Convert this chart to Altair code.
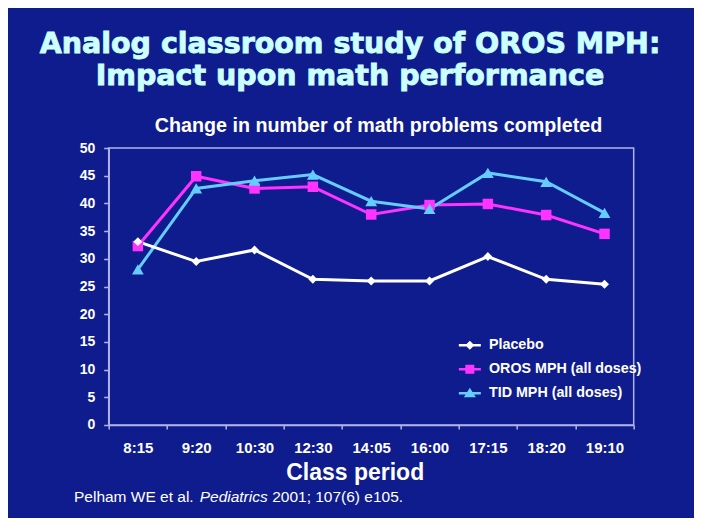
import altair as alt
import pandas as pd

# ---------------- data ----------------
periods = ["8:15", "9:20", "10:30", "12:30", "14:05", "16:00", "17:15", "18:20", "19:10"]
series_names = ["Placebo", "OROS MPH (all doses)", "TID MPH (all doses)"]
placebo = [33.1, 29.5, 31.6, 26.3, 26.0, 26.0, 30.4, 26.3, 25.4]
oros = [32.3, 44.9, 42.7, 43.0, 38.0, 39.7, 39.9, 37.9, 34.5]
tid = [28.1, 42.7, 44.1, 45.2, 40.4, 39.0, 45.5, 43.9, 38.3]
y_ticks = [0, 5, 10, 15, 20, 25, 30, 35, 40, 45, 50]

title_lines = ["Analog classroom study of OROS MPH:", "Impact upon math performance"]
chart_title = "Change in number of math problems completed"
x_title = "Class period"
footnote_parts = ["Pelham WE et al.", "Pediatrics", "2001; 107(6) e105."]

# ---------------- styles ----------------
series_colors = ["#FFFFFF", "#FF33FF", "#66CCFF"]
marker_shapes = ["diamond", "square", "triangle-up"]
marker_sizes = [80, 140, 160]
legend_shapes = [
    "M-2.2,-0.25H2.2V0.25H-2.2Z M0,-0.9L0.9,0L0,0.9L-0.9,0Z",
    "M-2.2,-0.25H2.2V0.25H-2.2Z M-0.9,-0.9H0.9V0.9H-0.9Z",
    "M-2.2,-0.25H2.2V0.25H-2.2Z M0,-1.1L1.2,0.8H-1.2Z",
]
AXIS_COLOR = "#B0B4E8"
BG = "#0F1C8D"
TITLE_COLOR = "#CCFFFF"
FONT = "Liberation Sans"

draw_order = ["OROS MPH (all doses)", "TID MPH (all doses)", "Placebo"]
values_by_series = {"Placebo": placebo, "OROS MPH (all doses)": oros, "TID MPH (all doses)": tid}
rows = []
for name in draw_order:
    for p, v in zip(periods, values_by_series[name]):
        rows.append({"period": p, "value": v, "series": name})
df = pd.DataFrame(rows)

x_enc = alt.X(
    "period:N",
    sort=periods,
    scale=alt.Scale(type="band", domain=periods, paddingInner=0, paddingOuter=0),
    axis=alt.Axis(
        title=x_title,
        labelAngle=0,
        tickBand="extent",
        labelFontSize=15,
        labelPadding=12,
        tickSize=4,
        titleFontSize=23,
        titleX=246,
        titleY=55,
        titleBaseline="alphabetic",
    ),
)
y_enc = alt.Y(
    "value:Q",
    scale=alt.Scale(domain=[0, 50], nice=False),
    axis=alt.Axis(title=None, values=y_ticks, labelFontSize=14, labelPadding=9, tickSize=5),
)
color_scale = alt.Scale(domain=series_names, range=series_colors)

lines = alt.Chart(df).mark_line(strokeWidth=3).encode(
    x=x_enc, y=y_enc,
    color=alt.Color("series:N", scale=color_scale, legend=None),
)

points = alt.Chart(df).mark_point(filled=True, opacity=1).encode(
    x=x_enc, y=y_enc,
    color=alt.Color("series:N", scale=color_scale, legend=None),
    shape=alt.Shape("series:N", scale=alt.Scale(domain=series_names, range=marker_shapes), legend=None),
    size=alt.Size("series:O", scale=alt.Scale(domain=series_names, range=marker_sizes), legend=None),
)

leg = alt.Legend(
    title=None,
    orient="none",
    legendX=354,
    legendY=190,
    padding=0,
    labelFont=FONT,
    labelFontSize=14.3,
    labelFontWeight="bold",
    labelColor="white",
    labelOffset=12,
    symbolSize=100,
    symbolStrokeWidth=0,
    symbolOpacity=1,
    rowPadding=9,
)
legend_layer = alt.Chart(df).mark_point(filled=True, opacity=0).encode(
    x=x_enc, y=y_enc,
    color=alt.Color("series:N", scale=color_scale, legend=leg),
    shape=alt.Shape("series:N", scale=alt.Scale(domain=series_names, range=legend_shapes), legend=leg),
)

one = pd.DataFrame({"t": [0]})


def txt(text, x, y, size, color="white", font=FONT, weight="bold", style="normal",
        align="center", stroke=None, stroke_width=0):
    kw = dict(
        text=text, font=font, fontSize=size, fontWeight=weight, fontStyle=style,
        color=color, align=align, baseline="alphabetic",
    )
    if stroke:
        kw["stroke"] = stroke
        kw["strokeWidth"] = stroke_width
    return alt.Chart(one).mark_text(**kw).encode(x=alt.value(x), y=alt.value(y))


texts = [
    txt(title_lines[0], 241.3, -94.7, 28.5, color=TITLE_COLOR, font="DejaVu Sans",
        stroke=TITLE_COLOR, stroke_width=0.9),
    txt(title_lines[1], 241.3, -63.5, 28.5, color=TITLE_COLOR, font="DejaVu Sans",
        stroke=TITLE_COLOR, stroke_width=0.9),
    txt(chart_title, 269.8, -16.3, 19.7),
    txt(footnote_parts[0], -34.7, 353.7, 15.5, weight="normal", align="left"),
    txt(footnote_parts[1], 91.0, 353.7, 15.5, weight="normal", style="italic", align="left"),
    txt(footnote_parts[2], 163.5, 353.7, 15.5, weight="normal", align="left"),
]

chart = alt.layer(lines, points, legend_layer, *texts).resolve_scale(
    color="independent", shape="independent"
).properties(
    width=525,
    height=277,
    autosize=alt.AutoSizeParams(type="none"),
    padding={"left": 100.7, "top": 140, "right": 60, "bottom": 93},
).configure(
    background=BG,
    font=FONT,
).configure_view(
    stroke=AXIS_COLOR,
    strokeWidth=1.5,
).configure_axis(
    domainColor=AXIS_COLOR,
    domainWidth=1.5,
    tickColor=AXIS_COLOR,
    tickWidth=1.5,
    labelColor="white",
    labelFont=FONT,
    labelFontWeight="bold",
    titleColor="white",
    titleFont=FONT,
    titleFontWeight="bold",
    grid=False,
)

chart.save("out.html", embed_options={"renderer": "svg", "actions": False})
